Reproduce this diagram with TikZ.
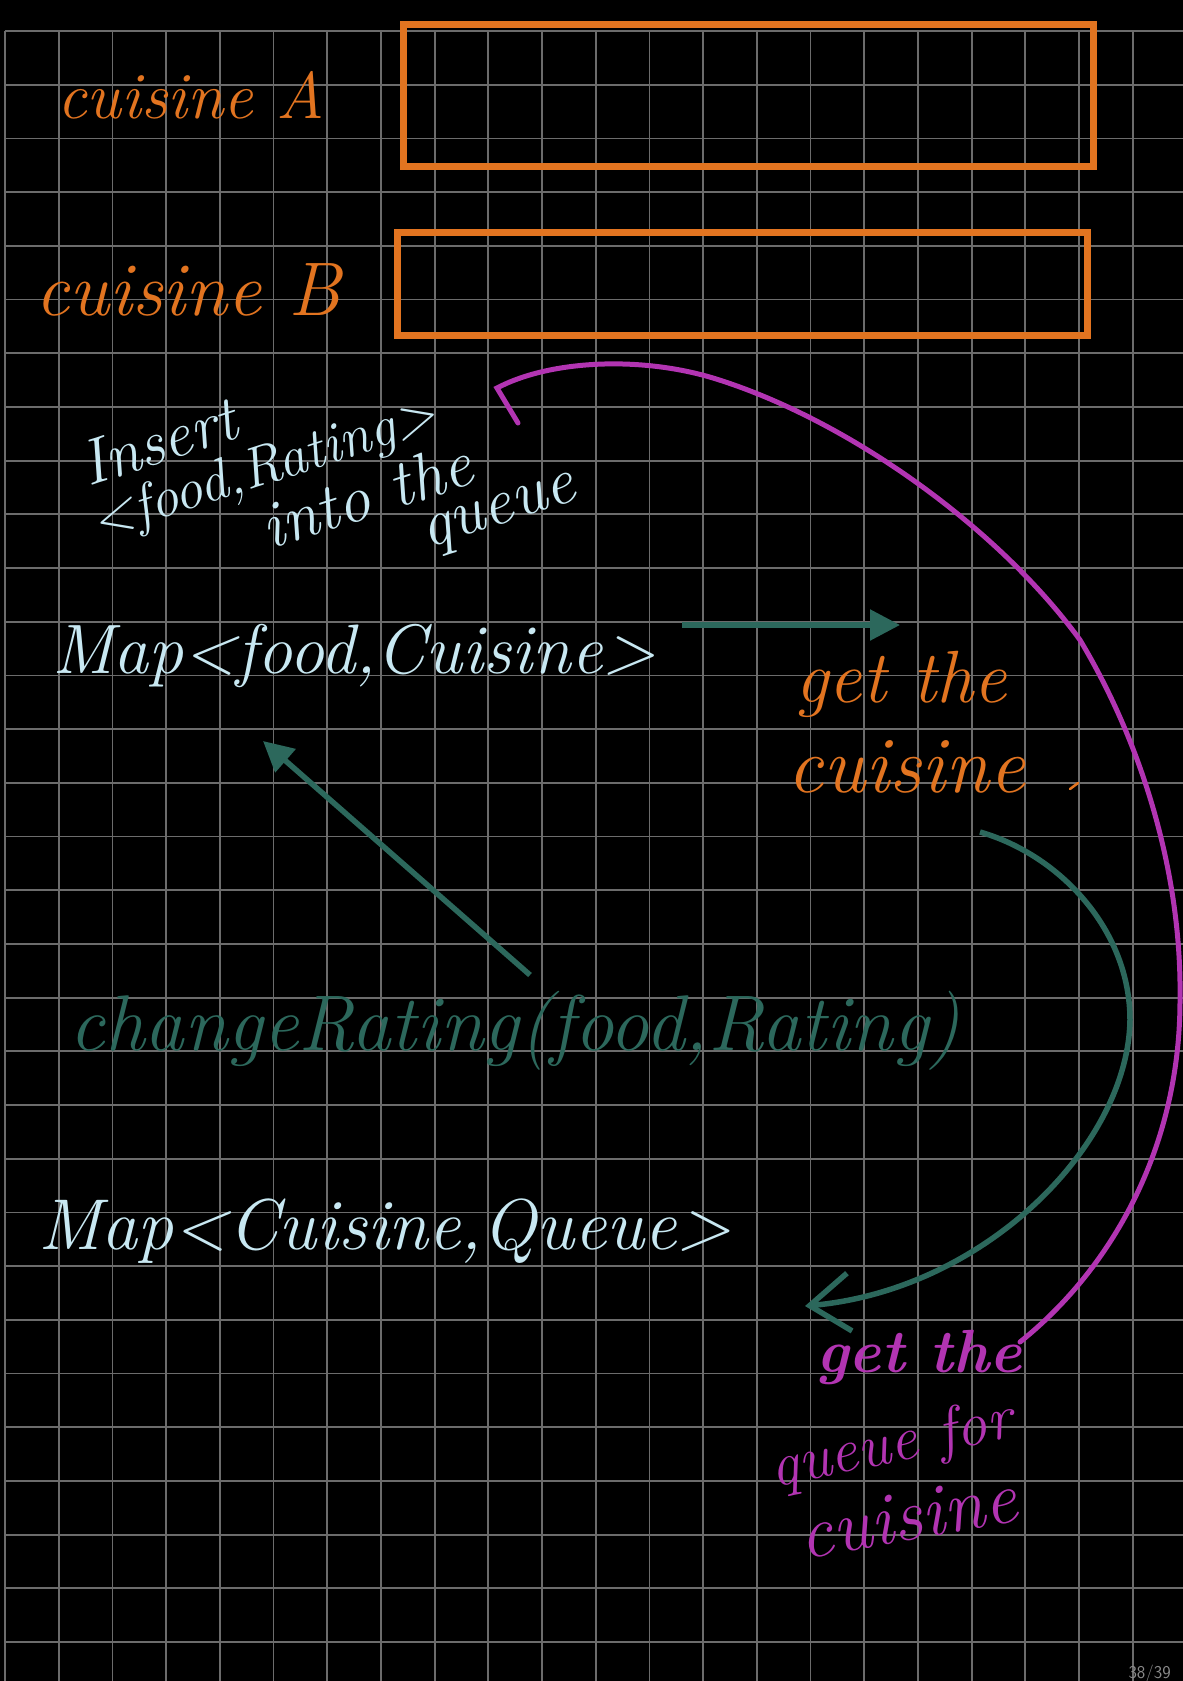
\documentclass[tikz,border=0pt]{standalone}
\usepackage{tikz}
\usetikzlibrary{arrows.meta}

\definecolor{inkorange}{RGB}{226,116,32}
\definecolor{inkblue}{RGB}{200,232,242}
\definecolor{inkteal}{RGB}{44,104,92}
\definecolor{inkpink}{RGB}{178,52,178}
\definecolor{gridgray}{RGB}{108,108,108}

\newcommand{\hw}[1]{\fontsize{#1}{#1}\selectfont\itshape}

\tikzset{
  hand/.style={inner sep=0pt, anchor=base},
  orangetxt/.style={hand, text=inkorange},
  bluetxt/.style={hand, text=inkblue},
  tealtxt/.style={hand, text=inkteal},
  pinktxt/.style={hand, text=inkpink},
  gridline/.style={draw=gridgray, line width=1.8pt},
  box/.style={draw=inkorange, line width=7pt},
  tealarrow/.style={draw=inkteal, line width=5.5pt, -{Triangle[length=30pt,width=30pt]}},
  tealcurve/.style={draw=inkteal, line width=5.5pt, -{Straight Barb[length=40pt,width=58pt]}},
  pinkline/.style={draw=inkpink, line width=5pt, line cap=round}
}

\begin{document}
\begin{tikzpicture}[x=1pt, y=-1pt]
    \useasboundingbox (0,0) rectangle (1183,1681);
    \fill[black] (0,0) rectangle (1183,1681);

    % Grid paper
    \foreach \i in {0,...,21}
        \draw[gridline] ({5+53.7*\i},31) -- ({5+53.7*\i},1681);
    \foreach \j in {0,...,30}
        \draw[gridline] (5,{31+53.7*\j}) -- (1183,{31+53.7*\j});

    % Cuisine boxes
    \draw[box] (403,24) rectangle (1093,166);
    \draw[box] (397,232) rectangle (1087,335);
    \node[orangetxt, font=\hw{66}] (cuisA) at (191,118) {cuisine A};
    \node[orangetxt, font=\hw{76}] (cuisB) at (188,315) {cuisine B};

    % Insert note, one slanted block
    \node[bluetxt, font=\hw{60}, anchor=base west, rotate=18] (insert) at (88,487) {%
        \rlap{\hw{64}Insert}%
        \rlap{\raisebox{-53pt}{\hspace*{-7pt}\hw{57}<food,Rating>}}%
        \rlap{\raisebox{-116pt}{\hspace*{153pt}\hw{66}into the}}%
        \raisebox{-163pt}{\hspace*{304pt}\hw{66}queue}};

    % First map
    \node[bluetxt, font=\hw{70}] (foodmap) at (354,673) {Map<food,Cuisine>};
    \coordinate (fmout) at (682,625);
    \coordinate (fmin) at (900,625);
    \draw[tealarrow] (fmout) -- (fmin);
    \node[orangetxt, font=\hw{74}] (getthe) at (901,702) {get the};
    \node[orangetxt, font=\hw{80}] (cuisC) at (906,792) {cuisine};
    \draw[inkorange, line width=2.5pt, line cap=round] (1070,789) -- (1078,783);

    % Call
    \node[tealtxt, font=\hw{79}] (change) at (515,1050) {changeRating(food,Rating)};
    \coordinate (chout) at (530,975);
    \coordinate (chin) at (263,741);
    \draw[tealarrow] (chout) -- (chin);

    % Second map
    \node[bluetxt, font=\hw{72}] (queuemap) at (385,1249) {Map<Cuisine,Queue>};
    \coordinate (tcstart) at (980,832);
    \coordinate (tcmid) at (1130,1020);
    \coordinate (tcend) at (805,1306);
    \draw[tealcurve] (tcstart) .. controls (1060,855) and (1130,930) .. (tcmid)
        .. controls (1128,1145) and (985,1290) .. (tcend);

    % Queue lookup
    \node[pinktxt, font=\hw{61}\bfseries] (getq) at (919,1372) {get the};
    \node[pinktxt, font=\hw{62}, rotate=12] (queuefor) at (895,1462) {queue for};
    \node[pinktxt, font=\hw{74}, rotate=10] (cuisQ) at (912,1540) {cuisine};
    \coordinate (pkstart) at (1020,1342);
    \coordinate (pkend) at (497,388);
    \draw[pinkline] (pkstart) .. controls (1110,1270) and (1180,1150) .. (1180,1000)
        .. controls (1182,870) and (1140,740) .. (1080,640)
        .. controls (1000,530) and (850,420) .. (713,378)
        .. controls (640,356) and (550,360) .. (pkend) -- (518,423);

    % Page number
    \node[anchor=base east, inner sep=0pt, text=gridgray!80!white,
          font=\sffamily\fontsize{18}{18}\selectfont] (pageno) at (1171,1678) {38/39};
\end{tikzpicture}
\end{document}
